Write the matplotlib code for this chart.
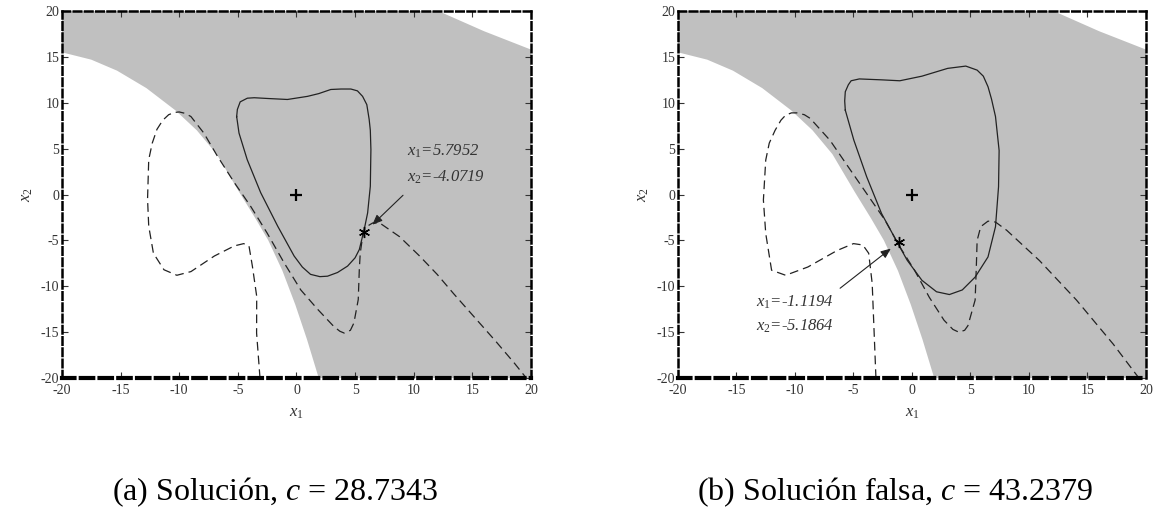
import matplotlib
matplotlib.use("Agg")
import matplotlib.pyplot as plt

plt.rcParams['font.family'] = ['Liberation Serif', 'DejaVu Serif']
plt.rcParams['mathtext.fontset'] = 'custom'
plt.rcParams['mathtext.rm'] = 'Liberation Serif'
plt.rcParams['mathtext.it'] = 'Liberation Serif:italic'
plt.rcParams['axes.unicode_minus'] = False

ticks = [-20, -15, -10, -5, 0, 5, 10, 15, 20]

# limite de la region sombreada (igual en ambos paneles)
bnd_x = [-20, -17.5, -15.3, -12.8, -10.3, -8.5, -6.8, -4.9, -3.5, -2.4, -1.2, -0.1, 0.9, 1.9]
bnd_y = [15.5, 14.7, 13.5, 11.6, 9.15, 7.0, 4.4, 0.3, -2.6, -5.0, -8.3, -12.0, -15.8, -20]
# esquina blanca arriba a la derecha
cor_x = [12.1, 16.0, 20]
cor_y = [20, 17.8, 15.8]

# (a) curva continua
a_sol_x = [-5.1, -4.9, -4.2, -3.05, -1.6, -0.2, 0.5, 1.2, 2.0, 2.65, 3.5, 4.36, 5.0, 5.36, 5.78,
           6.07, 6.3, 6.35, 6.3, 6.2, 6.0, 5.64, 5.2, 4.64, 3.8, 2.93, 1.9, 0.94, -0.77,
           -2.48, -3.6, -4.19, -4.8, -5.04, -5.1]
a_sol_y = [8.5, 6.7, 3.8, 0.2, -3.45, -6.7, -7.9, -8.7, -8.95, -8.9, -8.5, -7.8, -6.9, -6.0, -3.8,
           -2.0, 0.9, 4.9, 7.0, 8.2, 9.8, 10.7, 11.3, 11.5, 11.5, 11.45, 11.0, 10.7, 10.36,
           10.47, 10.55, 10.5, 10.1, 9.27, 8.5]
# (a) curva discontinua
a_das_x = [-3.11, -3.4, -3.39, -3.76, -4.05, -4.5, -5.3, -7.0, -9.0, -10.2, -11.3, -12.2,
           -12.6, -12.7, -12.6, -12.3, -11.9, -11.4, -10.9, -10.4, -10.0, -9.5, -9.0, -7.9,
           -6.75, -5.3, -3.9, -2.5, -1.05, 0.37, 1.8, 3.2, 3.7, 4.07, 4.6, 4.9, 5.27, 5.36,
           5.44, 5.64, 5.85, 6.5, 7.1, 8.8, 10.5, 12.0, 13.4, 15.2, 17.0, 18.6, 19.6]
a_das_y = [-20, -15.1, -11.1, -7.8, -5.6, -5.35, -5.6, -6.7, -8.4, -8.8, -8.2, -6.4,
           -3.45, -0.5, 3.8, 5.6, 7.1, 8.1, 8.7, 8.95, 9.0, 8.85, 8.5, 6.7,
           4.2, 1.3, -1.3, -4.2, -7.45, -10.4, -12.5, -14.4, -14.9, -15.1, -14.8, -14.0, -11.45, -8.2,
           -6.4, -4.6, -3.6, -3.1, -3.1, -4.6, -6.7, -8.7, -10.8, -13.4, -16.0, -18.4, -20]

# (b) curva continua
b_sol_x = [-5.7, -4.97, -3.87, -2.6, -1.35, -0.41, 0.85, 2.1, 3.2, 4.3, 5.4, 6.5, 7.14,
           7.4, 7.45, 7.14, 6.8, 6.5, 6.1, 5.57, 4.6, 3.05, 0.85, -1.04, -2.6, -4.5, -5.2,
           -5.44, -5.7, -5.75, -5.7]
b_sol_y = [9.2, 5.93, 1.93, -2.07, -5.0, -7.16, -9.35, -10.6, -10.9, -10.4, -9.0, -6.8, -3.5,
           0.84, 4.8, 8.5, 10.4, 11.75, 12.9, 13.56, 14.0, 13.75, 12.9, 12.4, 12.5, 12.6, 12.4,
           11.96, 11.2, 10.2, 9.2]
# (b) curva discontinua
b_das_x = [-3.08, -3.4, -3.7, -4.2, -5.0, -6.4, -8.9, -10.8, -12.0, -12.5, -12.7, -12.5,
           -12.2, -11.7, -11.2, -10.8, -10.3, -9.84, -9.2, -8.7, -7.0, -5.44, -3.87, -2.3,
           -1.04, 0.22, 1.48, 2.74, 3.5, 4.0, 4.5, 4.78, 5.4, 5.5, 5.57, 5.88, 6.5, 7.14,
           8.1, 10.9, 14.06, 17.2, 19.1, 19.4]
b_das_y = [-20, -9.7, -6.4, -5.5, -5.35, -6.1, -7.9, -8.8, -8.25, -4.25, -0.6, 3.75,
           5.6, 7.0, 8.1, 8.65, 8.9, 8.9, 8.7, 8.3, 5.9, 3.0, 0.1, -2.8,
           -5.7, -8.25, -11.2, -13.7, -14.7, -15.0, -14.8, -14.3, -11.5, -7.9, -5.0, -3.5, -2.9, -3.0,
           -3.9, -7.2, -11.5, -16.3, -19.5, -20]

sol_a = (5.7952, -4.0719)
sol_b = (-1.1194, -5.1864)
txt_a = (9.4, 4.7, 1.9)      # x, y linea 1, y linea 2
txt_b = (-13.3, -11.7, -14.4)
tail_a = (9.26, 0.13)
head_a = (6.3, -3.5)
tail_b = (-6.33, -10.4)
head_b = (-1.62, -5.7)

captions = ["(a) Solución, $c$ = 28.7343", "(b) Solución falsa, $c$ = 43.2379"]


def panel(ax, sx, sy, dx, dy, sol, txt, tail, head):
    poly_x = bnd_x + [20, 20] + cor_x[::-1] + [-20]
    poly_y = bnd_y + [-20, cor_y[-1]] + cor_y[::-1] + [20]
    ax.fill(poly_x, poly_y, color='#c0c0c0', lw=0, zorder=0)
    ax.plot(sx, sy, color='#222222', lw=0.9, zorder=2)
    ax.plot(dx, dy, color='#222222', lw=0.9, ls=(0, (7, 4)), zorder=2)
    ax.plot(0, 0, marker='+', ms=8, mew=1.6, color='k', zorder=3)
    ax.plot(sol[0], sol[1], marker=(6, 2, 0), ms=8, mew=1.0, color='k', zorder=4)
    ax.annotate('', xy=head, xytext=tail,
                arrowprops=dict(arrowstyle='-|>,head_length=0.6,head_width=0.25',
                                color='#222222', lw=0.8), zorder=4)
    ax.text(txt[0], txt[1], '$x_1$=%.4f' % sol[0], fontsize=12, style='italic',
            va='center', ha='left', color='#333333')
    ax.text(txt[0], txt[2], '$x_2$=%.4f' % sol[1], fontsize=12, style='italic',
            va='center', ha='left', color='#333333')
    ax.set_xlim(-20, 20)
    ax.set_ylim(-20, 20)
    ax.set_xticks(ticks)
    ax.set_yticks(ticks)
    ax.tick_params(direction='in', length=4, labelsize=10, colors='#333333',
                   top=True, right=True, pad=2)
    ax.tick_params(axis='x', pad=4)
    for s in ax.spines.values():
        s.set_linestyle((0, (3, 1.5)))
        s.set_linewidth(1.8)
    ax.spines['bottom'].set_linewidth(3)
    ax.set_xlabel('$x_1$', fontsize=12, color='#333333', labelpad=6)
    ax.set_ylabel('$x_2$', fontsize=12, color='#333333', labelpad=4)


fig = plt.figure(figsize=(11.56, 5.23), dpi=100)
ax1 = fig.add_axes([0.0536, 0.2772, 0.4057, 0.7017])
ax2 = fig.add_axes([0.5865, 0.2772, 0.4048, 0.7017])
panel(ax1, a_sol_x, a_sol_y, a_das_x, a_das_y, sol_a, txt_a, tail_a, head_a)
panel(ax2, b_sol_x, b_sol_y, b_das_x, b_das_y, sol_b, txt_b, tail_b, head_b)

fig.text(275 / 1156, 1 - 492 / 523, captions[0], fontsize=23, ha='center', va='center')
fig.text(895 / 1156, 1 - 492 / 523, captions[1], fontsize=23, ha='center', va='center')

fig.savefig('out.png', dpi=100)
